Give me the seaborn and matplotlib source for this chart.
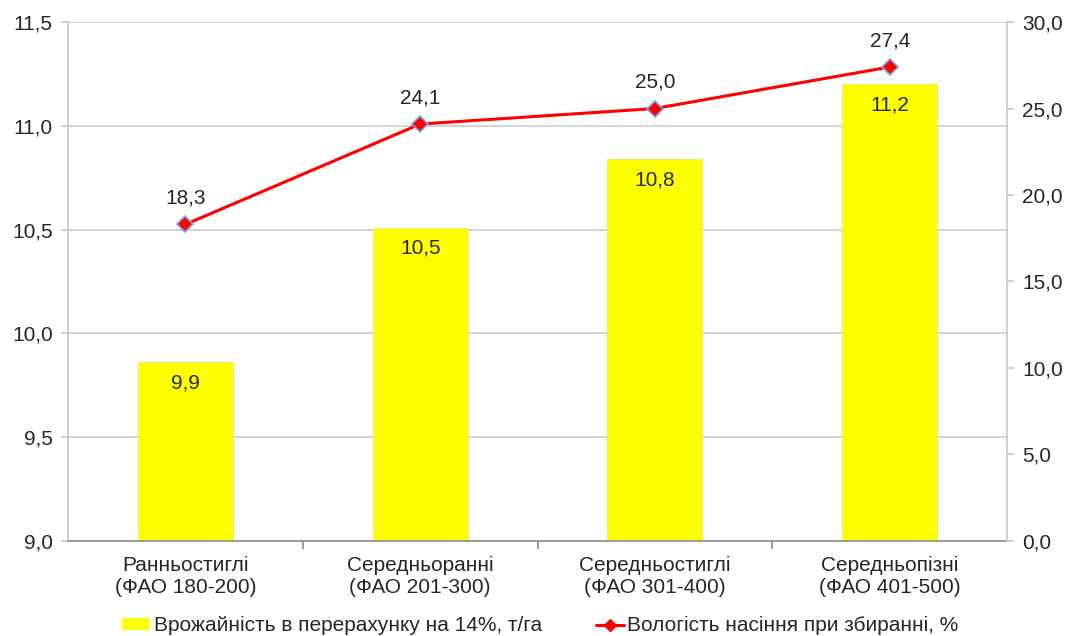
import matplotlib
matplotlib.use("Agg")
import matplotlib.pyplot as plt
import seaborn as sns
import pandas as pd
from matplotlib.lines import Line2D
from matplotlib.patches import Patch
from matplotlib.ticker import FuncFormatter, FixedLocator

categories = ["Ранньостиглі\n(ФАО 180-200)", "Середньоранні\n(ФАО 201-300)",
              "Середньостиглі\n(ФАО 301-400)", "Середньопізні\n(ФАО 401-500)"]
yield_vals = [9.86, 10.51, 10.84, 11.2]
moisture_vals = [18.3, 24.1, 25.0, 27.4]
bar_name = "Врожайність в перерахунку на 14%, т/га"
line_name = "Вологість насіння при збиранні, %"

sns.set_theme(style="white")
plt.rcParams['font.family'] = ['Liberation Sans', 'DejaVu Sans']
FS = 15

fig = plt.figure(figsize=(10.7, 6.36), dpi=100)
ax = fig.add_axes([0.0636, 0.1494, 0.8776, 0.816])

df = pd.DataFrame({"cat": categories, "y": yield_vals})
sns.barplot(data=df, x="cat", y="y", ax=ax, color="#FFFF00", width=0.405,
            edgecolor="#F2E36B", linewidth=0.6, saturation=1, zorder=2)
ax.set_ylim(9.0, 11.5)
ax.set_xlim(-0.5, 3.5)
ax.set_yticks([9.0, 9.5, 10.0, 10.5, 11.0, 11.5])
fmt = FuncFormatter(lambda v, p: f"{v:.1f}".replace(".", ","))
ax.yaxis.set_major_formatter(fmt)
ax.grid(axis="y", color="#D0D0D0", linewidth=1.3, zorder=0)
ax.set_axisbelow(True)
ax.set_xlabel("")
ax.set_ylabel("")
ax.spines["top"].set_visible(False)
ax.spines["right"].set_visible(False)
ax.spines["left"].set_color("#C8C8C8")
ax.spines["bottom"].set_color("#8C8C8C")
ax.spines["bottom"].set_linewidth(1.2)
ax.tick_params(axis="y", which="major", length=5, color="#C8C8C8", labelsize=FS, pad=6, left=True)
ax.tick_params(axis="x", which="major", length=0, labelsize=FS, pad=11)
ax.xaxis.set_minor_locator(FixedLocator([0.5, 1.5, 2.5]))
ax.tick_params(axis="x", which="minor", length=6, color="#8C8C8C", width=1.2, bottom=True)
for lab in ax.get_xticklabels():
    lab.set_linespacing(1.2)

for i, v in enumerate(yield_vals):
    ax.annotate(f"{round(v,1):.1f}".replace(".", ","), (i, v), xytext=(0, -15),
                textcoords="offset points", ha="center", va="center", fontsize=FS, zorder=5)

ax2 = ax.twinx()
ax2.set_position(ax.get_position())
xpos = list(range(len(categories)))
sns.lineplot(x=xpos, y=moisture_vals, ax=ax2, color="#FF0000", linewidth=2.2,
             marker="D", markersize=8, markerfacecolor="#FF0000",
             markeredgecolor="#7BA7D9", markeredgewidth=1.2, zorder=4)
ax2.set_ylim(0, 30)
ax2.set_xlim(-0.5, 3.5)
ax2.set_yticks([0, 5, 10, 15, 20, 25, 30])
ax2.yaxis.set_major_formatter(fmt)
ax2.tick_params(axis="y", length=5, color="#C8C8C8", labelsize=FS, pad=6, right=True)
ax2.grid(False)
ax2.set_ylabel("")
for s in ["top", "left", "bottom"]:
    ax2.spines[s].set_visible(False)
ax2.spines["right"].set_color("#C8C8C8")
for i, v in enumerate(moisture_vals):
    ax2.annotate(f"{v:.1f}".replace(".", ","), (i, v), xytext=(0, 19),
                 textcoords="offset points", ha="center", va="center", fontsize=FS)

handles = [Patch(facecolor="#FFFF00", edgecolor="none"),
           Line2D([0], [0], color="#FF0000", linewidth=2.2, marker="D", markersize=6,
                  markerfacecolor="#FF0000", markeredgecolor="#FF0000")]
fig.legend(handles, [bar_name, line_name], loc="center", bbox_to_anchor=(0.505, 0.016),
           ncol=2, frameon=False, fontsize=FS, handlelength=1.35, handleheight=0.55,
           handletextpad=0.15, columnspacing=2.6)

fig.savefig("out.png", dpi=100)
